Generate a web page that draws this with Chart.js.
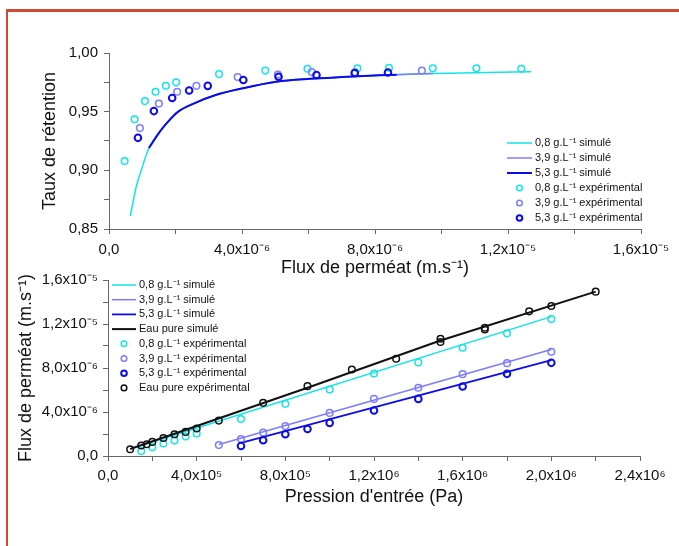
<!DOCTYPE html>
<html>
<head>
<meta charset="utf-8">
<script src="https://cdn.jsdelivr.net/npm/chart.js@4/dist/chart.umd.min.js"></script>
<style>
  html, body { margin: 0; padding: 0; background: #fff; }
  body { width: 679px; height: 546px; position: relative; overflow: hidden; }
  .cadre { position: absolute; left: 6px; top: 9px; width: 700px; height: 600px;
           border-left: 2px solid #cc4a33; border-top: 3px solid #cc4a33; }
  canvas { position: absolute; left: 0; }
  #chartRetention { top: 0; }
  #chartFlux { top: 262px; }
</style>
</head>
<body>
<div class="cadre"></div>
<canvas id="chartRetention" width="679" height="290"></canvas>
<canvas id="chartFlux" width="679" height="284"></canvas>
<script>
// --- Graphique du haut : taux de rétention vs flux de perméat ---
const simX08 = [6.4e-7, 8.2e-7, 9.7e-7, 1.2e-6, 1.53e-6, 1.73e-6, 2.08e-6, 2.53e-6, 3.23e-6, 4.03e-6, 5.03e-6, 6.04e-6, 7.0e-6, 8.14e-6, 9.7e-6, 1.1e-5, 1.27e-5];
const simY08 = [0.861, 0.886, 0.900, 0.919, 0.933, 0.940, 0.950, 0.9567, 0.9644, 0.970, 0.9755, 0.978, 0.9795, 0.981, 0.9825, 0.9832, 0.984];
const simX39 = [1.2e-6, 1.53e-6, 1.73e-6, 2.08e-6, 2.53e-6, 3.23e-6, 4.03e-6, 5.03e-6, 6.04e-6, 7.0e-6, 8.14e-6, 9.75e-6];
const simY39 = [0.919, 0.933, 0.940, 0.950, 0.9567, 0.9644, 0.970, 0.9755, 0.978, 0.9795, 0.981, 0.9825];
const simX53 = [1.2e-6, 1.53e-6, 1.73e-6, 2.08e-6, 2.53e-6, 3.23e-6, 4.03e-6, 5.03e-6, 6.04e-6, 7.0e-6, 8.14e-6, 8.65e-6];
const simY53 = [0.919, 0.933, 0.940, 0.950, 0.9567, 0.9644, 0.970, 0.9755, 0.978, 0.9795, 0.981, 0.9815];

const expX08 = [4.7e-7, 7.7e-7, 1.08e-6, 1.40e-6, 1.71e-6, 2.02e-6, 3.31e-6, 4.70e-6, 5.97e-6, 7.47e-6, 8.42e-6, 9.74e-6, 1.105e-5, 1.24e-5];
const expY08 = [0.908, 0.9436, 0.959, 0.967, 0.972, 0.975, 0.982, 0.985, 0.9866, 0.9869, 0.9874, 0.987, 0.987, 0.9866];
const expX39 = [9.3e-7, 1.50e-6, 2.05e-6, 2.63e-6, 3.87e-6, 5.08e-6, 6.1e-6, 7.4e-6, 9.41e-6];
const expY39 = [0.936, 0.957, 0.967, 0.972, 0.9795, 0.9817, 0.9838, 0.9835, 0.985];
const expX53 = [8.7e-7, 1.35e-6, 1.90e-6, 2.41e-6, 2.97e-6, 4.04e-6, 5.1e-6, 6.24e-6, 7.39e-6, 8.39e-6];
const expY53 = [0.9277, 0.9505, 0.9616, 0.968, 0.972, 0.977, 0.9797, 0.9812, 0.983, 0.9834];

const ticksXHaut = ['0,0', '4,0x10⁻⁶', '8,0x10⁻⁶', '1,2x10⁻⁵', '1,6x10⁻⁵'];
const ticksYHaut = ['0,85', '0,90', '0,95', '1,00'];

// --- Graphique du bas : flux de perméat vs pression d'entrée ---
const simPX08 = [1.5e5, 2.0e6];
const simFY08 = [9.5e-7, 1.267e-5];
const simPX39 = [5.0e5, 2.0e6];
const simFY39 = [1.05e-6, 9.69e-6];
const simPX53 = [6.0e5, 2.0e6];
const simFY53 = [1.2e-6, 8.72e-6];
const simPXEau = [1.0e5, 9.0e5, 1.5e6, 2.2e6];
const simFYEau = [6.3e-7, 6.2e-6, 1.05e-5, 1.494e-5];

const expPX08 = [1.5e5, 2.0e5, 2.5e5, 3.0e5, 3.5e5, 4.0e5, 6.0e5, 8.0e5, 1.0e6, 1.2e6, 1.4e6, 1.6e6, 1.8e6, 2.0e6];
const expFY08 = [4.6e-7, 7.9e-7, 1.13e-6, 1.40e-6, 1.77e-6, 2.04e-6, 3.37e-6, 4.74e-6, 6.05e-6, 7.5e-6, 8.51e-6, 9.84e-6, 1.115e-5, 1.245e-5];
const expPX39 = [5.0e5, 6.0e5, 7.0e5, 8.0e5, 1.0e6, 1.2e6, 1.4e6, 1.6e6, 1.8e6, 2.0e6];
const expFY39 = [1.0e-6, 1.55e-6, 2.13e-6, 2.73e-6, 3.92e-6, 5.19e-6, 6.2e-6, 7.44e-6, 8.44e-6, 9.47e-6];
const expPX53 = [6.0e5, 7.0e5, 8.0e5, 9.0e5, 1.0e6, 1.2e6, 1.4e6, 1.6e6, 1.8e6, 2.0e6];
const expFY53 = [9.1e-7, 1.43e-6, 1.98e-6, 2.46e-6, 3.01e-6, 4.14e-6, 5.19e-6, 6.32e-6, 7.47e-6, 8.47e-6];
const expPXEau = [1.0e5, 1.5e5, 1.75e5, 2.0e5, 2.5e5, 3.0e5, 3.5e5, 4.0e5, 5.0e5, 7.0e5, 9.0e5, 1.1e6, 1.3e6, 1.5e6, 1.5e6, 1.7e6, 1.7e6, 1.9e6, 2.0e6, 2.2e6];
const expFYEau = [6.1e-7, 9.5e-7, 1.07e-6, 1.28e-6, 1.64e-6, 1.98e-6, 2.19e-6, 2.50e-6, 3.22e-6, 4.83e-6, 6.35e-6, 7.87e-6, 8.84e-6, 1.066e-5, 1.036e-5, 1.166e-5, 1.15e-5, 1.315e-5, 1.364e-5, 1.494e-5];

const ticksXBas = ['0,0', '4,0x10⁵', '8,0x10⁵', '1,2x10⁶', '1,6x10⁶', '2,0x10⁶', '2,4x10⁶'];
const ticksYBas = ['0,0', '4,0x10⁻⁶', '8,0x10⁻⁶', '1,2x10⁻⁵', '1,6x10⁻⁵'];

const FONT = '"Liberation Sans", Arial, sans-serif';
const couleurs = {
    cyan: '#12e4ea',
    lavande: '#7c7cff',
    bleu: '#0c0cea',
    noir: '#111111',
    axe: '#666666'
};

function points(xs, ys) {
    return xs.map((x, i) => ({ x: x, y: ys[i] }));
}

function courbe(xs, ys, label, color, width, lisse) {
    return {
        label: label,
        data: points(xs, ys),
        showLine: true,
        borderColor: color,
        backgroundColor: color,
        borderWidth: width,
        pointRadius: 0,
        cubicInterpolationMode: lisse ? 'monotone' : 'default'
    };
}

function mesures(xs, ys, label, color, width) {
    return {
        label: label,
        data: points(xs, ys),
        showLine: false,
        borderColor: color,
        backgroundColor: 'rgba(0,0,0,0)',
        borderWidth: width,
        pointRadius: 3.3,
        pointStyle: 'circle'
    };
}

function axe(o) {
    return {
        type: 'linear',
        min: o.min,
        max: o.max,
        border: { display: true, color: couleurs.axe, width: 1 },
        grid: { display: true, drawOnChartArea: false, drawTicks: true, tickLength: 5, tickColor: couleurs.axe },
        ticks: {
            stepSize: o.step,
            autoSkip: false,
            maxRotation: 0,
            padding: o.tickPad,
            color: '#111',
            font: { family: FONT, size: 15 },
            callback: function(value, index) {
                return index % 2 === 0 ? o.labels[index / 2] : '';
            }
        },
        title: {
            display: true,
            text: o.title,
            color: '#111',
            font: { family: FONT, size: 18 },
            padding: o.titlePad
        },
        afterFit: function(scale) {
            if (scale.isHorizontal()) scale.height = o.size;
            else scale.width = o.size;
        }
    };
}

// Légende dessinée à l'intérieur de la zone de tracé
const legendeInterne = {
    id: 'legendeInterne',
    afterDraw(chart, args, opts) {
        const ctx = chart.ctx;
        const area = chart.chartArea;
        ctx.save();
        ctx.font = '11px ' + FONT;
        ctx.textBaseline = 'middle';
        ctx.textAlign = 'left';
        opts.ordre.forEach((idx, i) => {
            const ds = chart.data.datasets[idx];
            const x = area.left + opts.x;
            const y = area.top + opts.y + i * opts.pas;
            ctx.strokeStyle = ds.borderColor;
            if (ds.showLine) {
                ctx.lineWidth = ds.borderWidth;
                ctx.beginPath();
                ctx.moveTo(x, y);
                ctx.lineTo(x + opts.largeur, y);
                ctx.stroke();
            } else {
                ctx.lineWidth = ds.borderWidth;
                ctx.beginPath();
                ctx.arc(x + opts.largeur / 2, y, 2.8, 0, Math.PI * 2);
                ctx.stroke();
            }
            ctx.fillStyle = '#111';
            ctx.fillText(ds.label, x + opts.largeur + opts.ecart, y);
        });
        ctx.restore();
    }
};

new Chart(document.getElementById('chartRetention'), {
    type: 'scatter',
    data: {
        datasets: [
            mesures(expX53, expY53, '5,3 g.L⁻¹ expérimental', couleurs.bleu, 2),
            mesures(expX39, expY39, '3,9 g.L⁻¹ expérimental', couleurs.lavande, 1.5),
            mesures(expX08, expY08, '0,8 g.L⁻¹ expérimental', couleurs.cyan, 1.5),
            courbe(simX53, simY53, '5,3 g.L⁻¹ simulé', couleurs.bleu, 2, true),
            courbe(simX39, simY39, '3,9 g.L⁻¹ simulé', couleurs.lavande, 1.5, true),
            courbe(simX08, simY08, '0,8 g.L⁻¹ simulé', couleurs.cyan, 1.5, true)
        ]
    },
    options: {
        responsive: false,
        animation: false,
        layout: { padding: { left: 0, top: 53, right: 38, bottom: 0 } },
        plugins: {
            legend: { display: false },
            tooltip: { enabled: false },
            legendeInterne: { ordre: [5, 4, 3, 2, 1, 0], x: 398, y: 90, pas: 15, largeur: 25, ecart: 3 }
        },
        scales: {
            x: axe({ min: 0, max: 1.6e-5, step: 2e-6, labels: ticksXHaut, tickPad: 7,
                     title: 'Flux de perméat (m.s⁻¹)', titlePad: { top: 0, bottom: 11 }, size: 61 }),
            y: axe({ min: 0.85, max: 1.0, step: 0.025, labels: ticksYHaut, tickPad: 6,
                     title: 'Taux de rétention', titlePad: { top: 39, bottom: 0 }, size: 109 })
        }
    },
    plugins: [legendeInterne]
});

new Chart(document.getElementById('chartFlux'), {
    type: 'scatter',
    data: {
        datasets: [
            mesures(expPXEau, expFYEau, 'Eau pure expérimental', couleurs.noir, 1.5),
            mesures(expPX53, expFY53, '5,3 g.L⁻¹ expérimental', couleurs.bleu, 2),
            mesures(expPX39, expFY39, '3,9 g.L⁻¹ expérimental', couleurs.lavande, 1.5),
            mesures(expPX08, expFY08, '0,8 g.L⁻¹ expérimental', couleurs.cyan, 1.5),
            courbe(simPXEau, simFYEau, 'Eau pure simulé', couleurs.noir, 2, false),
            courbe(simPX53, simFY53, '5,3 g.L⁻¹ simulé', couleurs.bleu, 1.8, false),
            courbe(simPX39, simFY39, '3,9 g.L⁻¹ simulé', couleurs.lavande, 1.5, false),
            courbe(simPX08, simFY08, '0,8 g.L⁻¹ simulé', couleurs.cyan, 1.5, false)
        ]
    },
    options: {
        responsive: false,
        animation: false,
        layout: { padding: { left: 0, top: 18, right: 39, bottom: 0 } },
        plugins: {
            legend: { display: false },
            tooltip: { enabled: false },
            legendeInterne: { ordre: [7, 6, 5, 4, 3, 2, 1, 0], x: 4, y: 5, pas: 14.7, largeur: 24, ecart: 3 }
        },
        scales: {
            x: axe({ min: 0, max: 2.4e6, step: 2e5, labels: ticksXBas, tickPad: 6,
                     title: "Pression d'entrée (Pa)", titlePad: { top: 0, bottom: 38 }, size: 90 }),
            y: axe({ min: 0, max: 1.6e-5, step: 2e-6, labels: ticksYBas, tickPad: 5,
                     title: 'Flux de perméat (m.s⁻¹)', titlePad: { top: 15, bottom: 0 }, size: 108 })
        }
    },
    plugins: [legendeInterne]
});
</script>
</body>
</html>
